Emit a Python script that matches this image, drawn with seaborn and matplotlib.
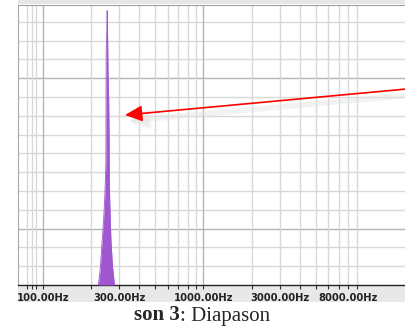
import matplotlib
matplotlib.use("Agg")
import matplotlib.pyplot as plt
import seaborn as sns
import pandas as pd
from matplotlib.patches import Rectangle

# spectre du diapason (niveau en divisions de grille)
freq_hz = [222, 228, 234, 240, 244, 247.5, 248.5, 250.5, 252, 253.5, 255.5, 257.5, 259, 260, 262, 266, 272, 280]
niveau = [0, 0.8, 2.2, 3.6, 4.8, 6.5, 12.5, 13.4, 14.6, 13.4, 11.0, 10.0, 8.0, 5.5, 4.2, 2.4, 1.0, 0]

tick_hz = [100, 300, 1000, 3000, 8000]
tick_labels = ["100.00Hz", "300.00Hz", "1000.00Hz", "3000.00Hz", "8000.00Hz"]
grille_min = [80, 86, 91, 200, 300, 400, 500, 600, 700, 800, 900,
              2000, 3000, 4000, 5000, 6000, 7000, 8000, 9000]
grille_maj = [100, 1000]

df = pd.DataFrame({"freq": freq_hz, "niveau": niveau})

sns.set_style("white")
fig = plt.figure(figsize=(4.05, 3.26), dpi=100)
W, H = 405, 326
ax = fig.add_axes([18 / W, 41 / H, (W - 18) / W, 280 / H])

# grille
for y in range(1, 15):
    c = "#b4b4b4" if y in (3, 11) else "#d8d8d8"
    ax.axhline(y, color=c, lw=1, zorder=0)
for x in grille_min:
    ax.axvline(x, color="#d8d8d8", lw=1, zorder=0)
for x in grille_maj:
    ax.axvline(x, color="#b4b4b4", lw=1, zorder=0)

sns.lineplot(data=df, x="freq", y="niveau", color="#a057d0", lw=0.6, ax=ax, zorder=3)
ax.fill_between(df["freq"], 0, df["niveau"], color="#a057d0", lw=0, zorder=3)

ax.set_xscale("log")
ax.set_xlim(70.2, 18030)
ax.set_ylim(0, 14.9)
ax.set_xticks(tick_hz)
ax.set_xticklabels(tick_labels)
ax.set_xticks(grille_min + grille_maj, minor=True)
ax.set_yticks([])
ax.set_xlabel("")
ax.set_ylabel("")
ax.tick_params(axis="x", which="both", direction="out", length=3, width=0.8,
               color="#333333", pad=2.5, labelsize=7.2, labelcolor="#222222", bottom=True)
for lab in ax.get_xticklabels():
    lab.set_fontweight("semibold")

ax.spines["right"].set_visible(False)
ax.spines["top"].set_color("#a0a0a0")
ax.spines["left"].set_color("#a8a8a8")
ax.spines["bottom"].set_color("#222222")
ax.spines["bottom"].set_linewidth(1.0)

# bandes grises (haut et sous l'axe)
fig.add_artist(Rectangle((18 / W, (H - 4) / H), 1, 4 / H, transform=fig.transFigure,
                         color="#e6e6e6", lw=0, zorder=0))
fig.add_artist(Rectangle((18 / W, 24 / H), 1, 16 / H, transform=fig.transFigure,
                         color="#e8e8e8", lw=0, zorder=0))

# flèche rouge + ombre légère
ax.annotate("", xy=(127, H - 121), xytext=(412, H - 95), xycoords="figure pixels",
            textcoords="figure pixels", annotation_clip=False,
            arrowprops=dict(arrowstyle="-|>,head_length=0.75,head_width=0.35", mutation_scale=14,
                            color="#e4e4e4", lw=4, alpha=0.45, shrinkA=0, shrinkB=0), zorder=4)
ax.annotate("", xy=(125, H - 115), xytext=(412, H - 88.5), xycoords="figure pixels",
            textcoords="figure pixels", annotation_clip=False,
            arrowprops=dict(arrowstyle="-|>,head_length=0.75,head_width=0.35", mutation_scale=14,
                            color="red", lw=1.2, shrinkA=0, shrinkB=0), zorder=5)

# légende sous le graphique
fig.text(179.5 / W, 5.5 / H, "son 3", ha="right", va="baseline", fontsize=15,
         family="Liberation Serif", fontweight="bold")
fig.text(180.5 / W, 5.5 / H, ": Diapason", ha="left", va="baseline", fontsize=15,
         family="Liberation Serif")

plt.savefig("out.png", dpi=100)
